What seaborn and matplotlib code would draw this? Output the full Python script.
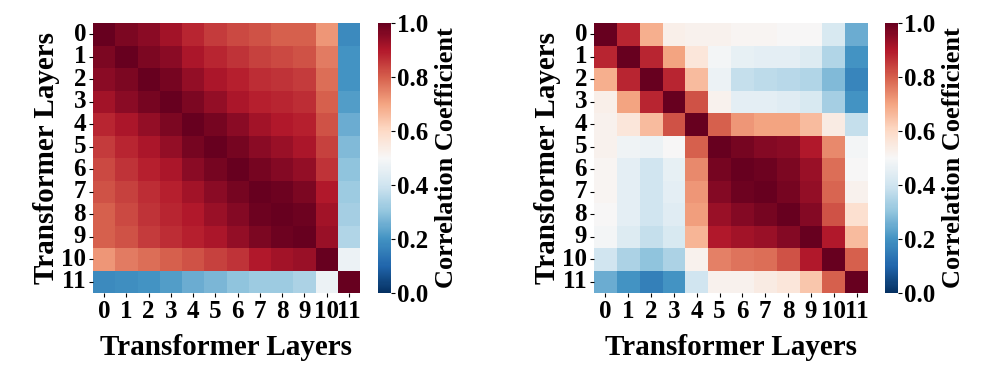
import numpy as np
import pandas as pd
import matplotlib
matplotlib.use("Agg")
import matplotlib.pyplot as plt
import seaborn as sns

plt.rcParams['font.family'] = ['Liberation Serif', 'DejaVu Serif']
plt.rcParams['font.weight'] = 'bold'

layers = [str(i) for i in range(12)]

# left panel: correlation between transformer layers (model A)
corr_a = [
    [1.00, 0.97, 0.95, 0.92, 0.88, 0.85, 0.83, 0.82, 0.80, 0.80, 0.72, 0.18],
    [0.97, 1.00, 0.97, 0.95, 0.91, 0.88, 0.86, 0.84, 0.83, 0.82, 0.76, 0.20],
    [0.95, 0.97, 1.00, 0.98, 0.94, 0.91, 0.89, 0.87, 0.86, 0.85, 0.78, 0.20],
    [0.92, 0.95, 0.98, 1.00, 0.97, 0.94, 0.91, 0.89, 0.88, 0.87, 0.80, 0.22],
    [0.88, 0.91, 0.94, 0.97, 1.00, 0.98, 0.95, 0.92, 0.90, 0.89, 0.82, 0.25],
    [0.85, 0.88, 0.91, 0.94, 0.98, 1.00, 0.98, 0.95, 0.93, 0.91, 0.84, 0.28],
    [0.83, 0.86, 0.89, 0.91, 0.95, 0.98, 1.00, 0.98, 0.96, 0.94, 0.86, 0.30],
    [0.82, 0.84, 0.87, 0.89, 0.92, 0.95, 0.98, 1.00, 0.99, 0.97, 0.90, 0.32],
    [0.80, 0.83, 0.86, 0.88, 0.90, 0.93, 0.96, 0.99, 1.00, 0.99, 0.92, 0.33],
    [0.80, 0.82, 0.85, 0.87, 0.89, 0.91, 0.94, 0.97, 0.99, 1.00, 0.93, 0.35],
    [0.72, 0.76, 0.78, 0.80, 0.82, 0.84, 0.86, 0.90, 0.92, 0.93, 1.00, 0.47],
    [0.18, 0.19, 0.20, 0.22, 0.25, 0.27, 0.30, 0.32, 0.32, 0.34, 0.47, 1.00],
]

# right panel: correlation between transformer layers (model B)
corr_b = [
    [1.00, 0.88, 0.68, 0.53, 0.52, 0.52, 0.51, 0.51, 0.50, 0.50, 0.42, 0.25],
    [0.88, 1.00, 0.88, 0.70, 0.56, 0.49, 0.46, 0.45, 0.45, 0.43, 0.35, 0.20],
    [0.68, 0.88, 1.00, 0.88, 0.66, 0.47, 0.38, 0.37, 0.36, 0.35, 0.28, 0.17],
    [0.53, 0.70, 0.88, 1.00, 0.82, 0.52, 0.45, 0.45, 0.44, 0.42, 0.33, 0.20],
    [0.52, 0.56, 0.66, 0.82, 1.00, 0.80, 0.72, 0.70, 0.70, 0.66, 0.54, 0.38],
    [0.52, 0.48, 0.47, 0.50, 0.80, 1.00, 0.98, 0.96, 0.95, 0.90, 0.74, 0.49],
    [0.51, 0.45, 0.40, 0.46, 0.74, 0.98, 1.00, 0.99, 0.97, 0.93, 0.78, 0.50],
    [0.51, 0.45, 0.40, 0.45, 0.72, 0.96, 0.99, 1.00, 0.98, 0.94, 0.79, 0.52],
    [0.50, 0.45, 0.40, 0.44, 0.71, 0.93, 0.96, 0.98, 1.00, 0.96, 0.82, 0.58],
    [0.49, 0.43, 0.38, 0.42, 0.67, 0.90, 0.92, 0.93, 0.96, 1.00, 0.90, 0.66],
    [0.40, 0.34, 0.30, 0.34, 0.52, 0.75, 0.77, 0.78, 0.82, 0.90, 1.00, 0.80],
    [0.25, 0.20, 0.16, 0.20, 0.40, 0.52, 0.52, 0.54, 0.56, 0.64, 0.80, 1.00],
]

W, H = 982, 368
fig = plt.figure(figsize=(W / 100, H / 100), dpi=100)


def px(x0, y0, x1, y1):
    return [x0 / W, 1 - y1 / H, (x1 - x0) / W, (y1 - y0) / H]


panels = [
    (corr_a, px(93, 23, 360, 293), px(378, 23, 391, 293)),
    (corr_b, px(594, 23, 868, 293), px(885, 23, 898, 293)),
]

for data, ax_pos, cb_pos in panels:
    ax = fig.add_axes(ax_pos)
    cax = fig.add_axes(cb_pos)
    df = pd.DataFrame(data, index=layers, columns=layers)
    sns.heatmap(df, ax=ax, cbar_ax=cax, cmap="RdBu_r", vmin=0, vmax=1,
                square=False)
    ax.set_xlabel("Transformer Layers", fontsize=21, fontweight='bold', labelpad=8)
    ax.set_ylabel("Transformer Layers", fontsize=21, fontweight='bold', labelpad=1)
    ax.tick_params(axis='both', length=3, width=0.8, pad=2)
    ax.set_xticklabels(layers, rotation=0, fontsize=18, fontweight='bold')
    ax.set_yticklabels(layers, rotation=0, fontsize=18, fontweight='bold')
    cax.tick_params(length=3, width=0.8, pad=1)
    cax.set_yticks([0, 0.2, 0.4, 0.6, 0.8, 1.0])
    cax.set_yticklabels(["0.0", "0.2", "0.4", "0.6", "0.8", "1.0"],
                        fontsize=18, fontweight='bold')
    cax.set_ylabel("Correlation Coefficient", fontsize=19, fontweight='bold',
                   labelpad=5)

fig.savefig("out.png", dpi=100)
